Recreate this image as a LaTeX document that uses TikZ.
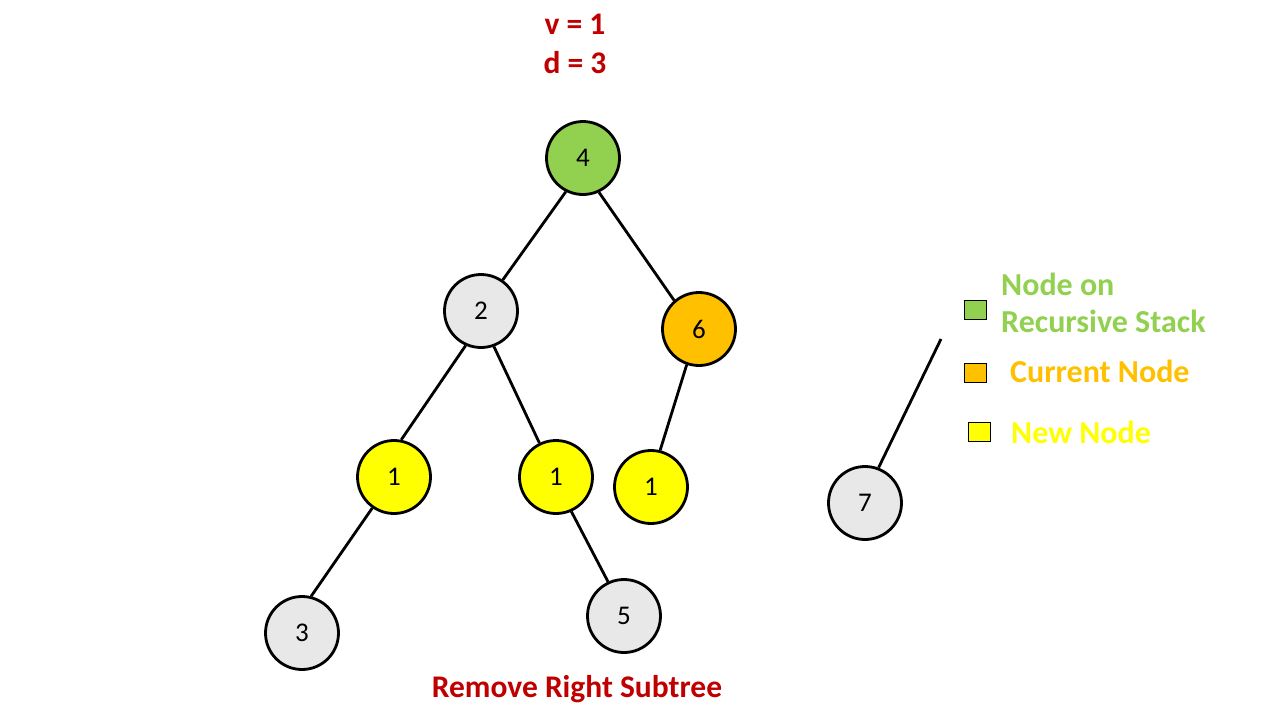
\documentclass[tikz,border=0pt]{standalone}
\usepackage{fontspec}
\setmainfont{Carlito}
\begin{document}
\begin{tikzpicture}[x=1pt,y=-1pt,
  treenode/.style={circle,draw=black,line width=2.8pt,minimum size=73pt,inner sep=0pt,
    font=\fontsize{27}{31}\selectfont},
  stacknode/.style={treenode,fill=stackgreen},
  curnode/.style={treenode,fill=curorange},
  newnode/.style={treenode,fill=newyellow},
  plainnode/.style={treenode,fill=nodegray},
  edge/.style={line width=2.8pt,draw=black},
  keybox/.style={draw=black,line width=1.2pt,minimum width=22pt,minimum height=19pt,inner sep=0pt},
  keytext/.style={anchor=west,font=\fontsize{32}{36}\bfseries\selectfont,inner sep=0pt},
  redtext/.style={text=titlered,font=\fontsize{31.5}{36}\bfseries\selectfont,inner sep=0pt}]
\definecolor{stackgreen}{HTML}{92D050}
\definecolor{curorange}{HTML}{FFC000}
\definecolor{newyellow}{HTML}{FFFF00}
\definecolor{nodegray}{HTML}{E8E8E8}
\definecolor{titlered}{HTML}{C00000}
\useasboundingbox[fill=white] (0,0) rectangle (1280,720);

% header and caption
\node[redtext] (vlabel) at (575,24) {v = 1};
\node[redtext] (dlabel) at (575,63) {d = 3};
\node[redtext] (caption) at (577,689) {Remove Right Subtree};

% tree
\node[stacknode] (n4) at (583,158) {4};
\node[plainnode] (n2) at (481,311) {2};
\node[curnode] (n6) at (699,329) {6};
\node[newnode] (n1a) at (394,477) {1};
\node[newnode] (n1b) at (556,477) {1};
\node[newnode] (n1c) at (651,487) {1};
\node[plainnode] (n3) at (302,633) {3};
\node[plainnode] (n5) at (624,616) {5};
\node[plainnode] (n7) at (865,503) {7};
\coordinate (loose) at (941,339);

\draw[edge] (n4.243) -- (n2.55);
\draw[edge] (n4.295) -- (n6.131);
\draw[edge] (n2.246) -- (n1a.79);
\draw[edge] (n2.290) -- (n1b.116);
\draw[edge] (n6.251) -- (n1c.76);
\draw[edge] (n1a.235) -- (n3.76);
\draw[edge] (n1b.294) -- (n5.115);
\draw[edge] (n7.69) -- (loose);

% legend
\node[keybox,fill=stackgreen] (kstack) at (975.5,310) {};
\node[keybox,fill=curorange] (kcur) at (975.5,373) {};
\node[keybox,fill=newyellow] (knew) at (979.5,432) {};
\node[keytext,text=stackgreen] (tstack1) at (1001,284) {Node on};
\node[keytext,text=stackgreen] (tstack2) at (1001,321) {Recursive Stack};
\node[keytext,text=curorange] (tcur) at (1010,371) {Current Node};
\node[keytext,text=newyellow] (tnew) at (1011,432) {New Node};
\end{tikzpicture}
\end{document}
